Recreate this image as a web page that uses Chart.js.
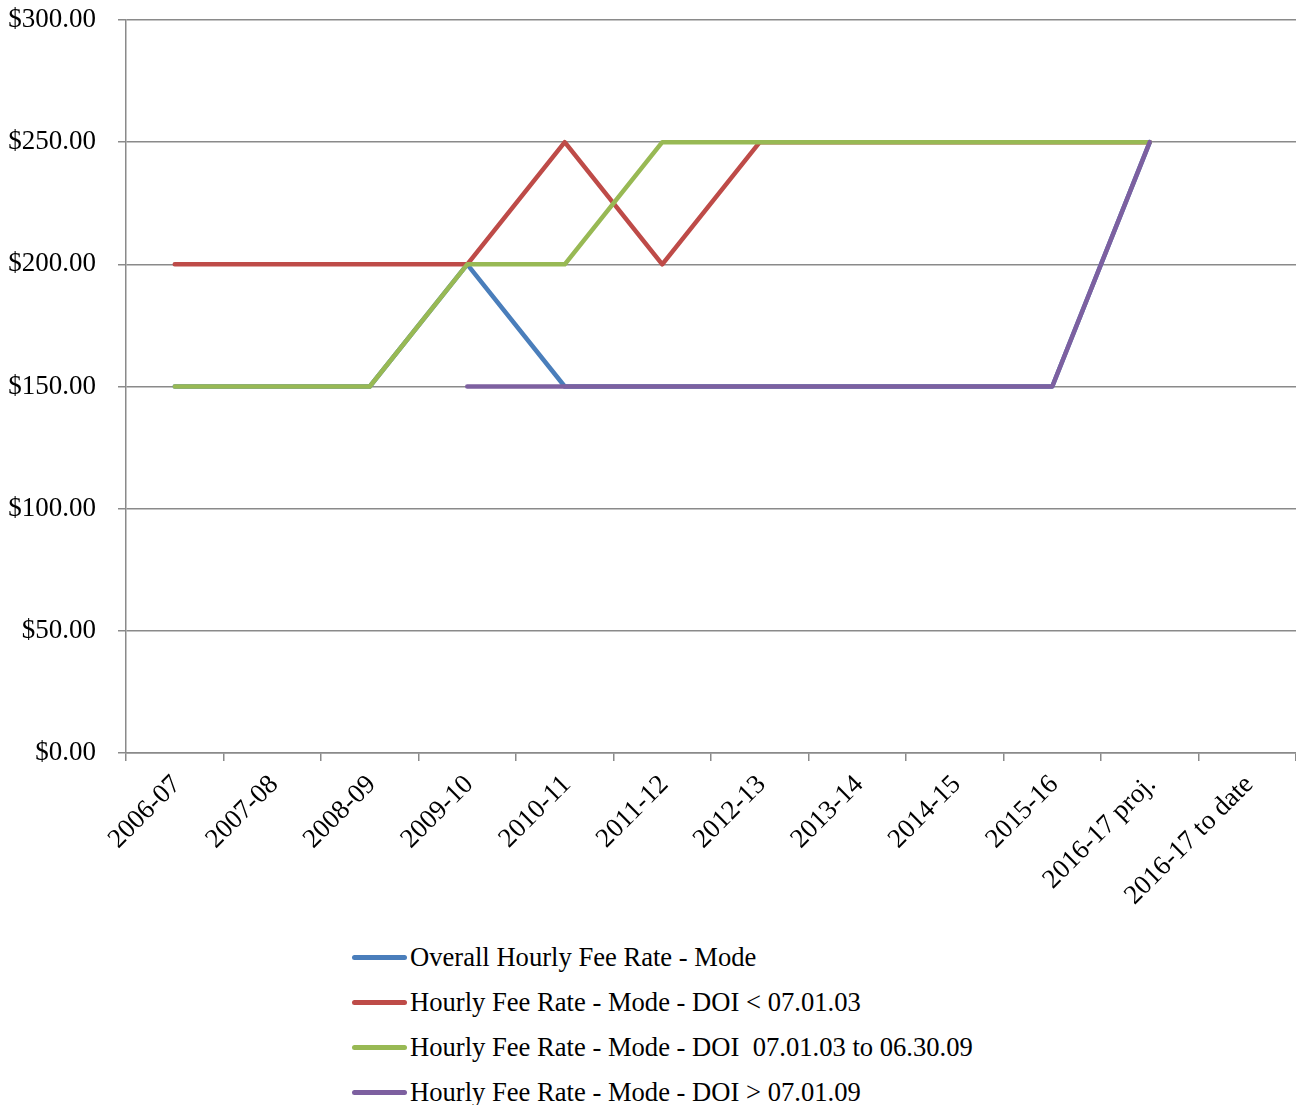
<!DOCTYPE html>
<html>
<head>
<meta charset="utf-8">
<title>Hourly Fee Rate - Mode</title>
<script src="https://cdn.jsdelivr.net/npm/chart.js@4/dist/chart.umd.min.js"></script>
<style>
  html, body { margin: 0; padding: 0; background: #fff; }
  #wrap { position: relative; width: 1296px; height: 1105px; overflow: hidden; }
  #chartBox { position: absolute; left: 0; top: 0; width: 1296px; height: 930px; }
  #legend { position: absolute; left: 352px; top: 935px;
            font-family: "Liberation Serif", "Times New Roman", serif; font-size: 26.6px; color: #000; }
  .item { display: flex; align-items: center; height: 45px; white-space: pre; }
  .swatch { width: 55px; height: 5px; border-radius: 3px; margin-right: 3px; }
</style>
</head>
<body>
<div id="wrap">
  <div id="chartBox"><canvas id="chart"></canvas></div>
  <div id="legend"></div>
</div>
<script>
// Fiscal years on the x axis
const categories = ['2006-07', '2007-08', '2008-09', '2009-10', '2010-11', '2011-12',
                    '2012-13', '2013-14', '2014-15', '2015-16', '2016-17 proj.', '2016-17 to date'];

// Hourly fee rate modes ($)
const overallMode  = [150, 150, 150, 200, 150, 150, 150, 150, 150, 150, 250, null];
const doiBefore03  = [200, 200, 200, 200, 250, 200, 250, 250, 250, 250, 250, null];
const doi03to09    = [150, 150, 150, 200, 200, 250, 250, 250, 250, 250, 250, null];
const doiAfter09   = [null, null, null, 150, 150, 150, 150, 150, 150, 150, 250, null];

const seriesNames = ['Overall Hourly Fee Rate - Mode',
                     'Hourly Fee Rate - Mode - DOI < 07.01.03',
                     'Hourly Fee Rate - Mode - DOI  07.01.03 to 06.30.09',
                     'Hourly Fee Rate - Mode - DOI > 07.01.09'];

// Y axis ticks
const yTicks = [0, 50, 100, 150, 200, 250, 300];

const colors = ['#4a7ebb', '#be4b48', '#98b954', '#7d60a0'];
const FONT = '"Liberation Serif", "Times New Roman", serif';
const AXIS_GREY = '#8a8a8a';

function series(i, values) {
  return {
    label: seriesNames[i],
    data: values,
    borderColor: colors[i],
    backgroundColor: colors[i],
    borderWidth: 4.5,
    borderCapStyle: 'round',
    borderJoinStyle: 'round',
    pointRadius: 0,
    pointHoverRadius: 0,
    tension: 0,
    spanGaps: false,
    fill: false,
    order: 3 - i   // later series drawn on top
  };
}

const chart = new Chart(document.getElementById('chart'), {
  type: 'line',
  data: {
    labels: categories,
    datasets: [series(0, overallMode), series(1, doiBefore03), series(2, doi03to09), series(3, doiAfter09)]
  },
  options: {
    responsive: true,
    maintainAspectRatio: false,
    animation: false,
    layout: { padding: { top: 20, right: 0, bottom: 0, left: 0 } },
    plugins: { legend: { display: false }, tooltip: { enabled: false } },
    scales: {
      x: {
        type: 'category',
        offset: true,
        grid: { drawOnChartArea: false, offset: true, drawTicks: true, tickLength: 8,
                color: AXIS_GREY, lineWidth: 1.5 },
        border: { color: AXIS_GREY, width: 1.5 },
        ticks: { autoSkip: false, maxRotation: 45, minRotation: 45, padding: 8, labelOffset: 2,
                 color: '#000', font: { family: FONT, size: 27 } },
        afterFit: (axis) => {
          axis.height = 177;
          axis.paddingLeft = 0; axis.paddingRight = 0;
        }
      },
      y: {
        min: 0,
        max: 300,
        afterBuildTicks: (axis) => { axis.ticks = yTicks.map(v => ({ value: v })); },
        grid: { color: AXIS_GREY, lineWidth: 1.5, drawTicks: true, tickLength: 8 },
        border: { color: AXIS_GREY, width: 1.5 },
        ticks: { padding: 22, color: '#000', font: { family: FONT, size: 27 },
                 callback: (v) => '$' + Number(v).toFixed(2) },
        afterFit: (axis) => {
          axis.width = 126;
          axis.paddingTop = 0; axis.paddingBottom = 0;
        }
      }
    }
  }
});

// Vertical legend list below the plot
const legendEl = document.getElementById('legend');
chart.data.datasets.forEach((ds) => {
  const row = document.createElement('div');
  row.className = 'item';
  const sw = document.createElement('span');
  sw.className = 'swatch';
  sw.style.background = ds.borderColor;
  const txt = document.createElement('span');
  txt.textContent = ds.label;
  row.appendChild(sw);
  row.appendChild(txt);
  legendEl.appendChild(row);
});
</script>
</body>
</html>
